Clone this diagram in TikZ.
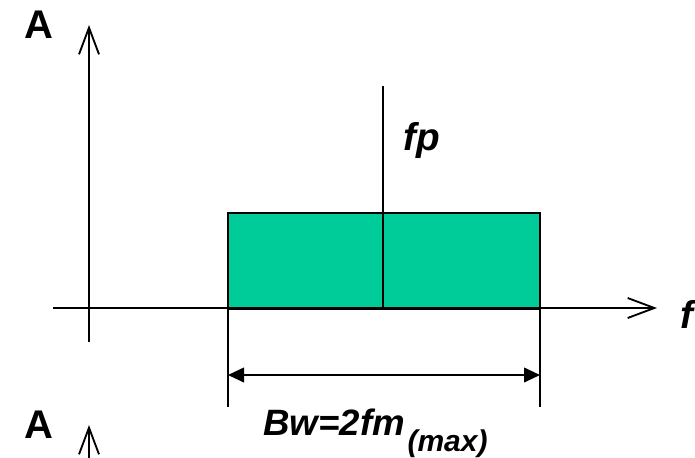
\documentclass[tikz,border=0pt]{standalone}
\usepackage{fontspec}
\setmainfont{Liberation Sans}
\usetikzlibrary{arrows.meta}
\definecolor{band}{HTML}{00CC99}
\tikzset{
  ax/.style={line width=1.4pt,-{Straight Barb[length=20pt,width=15pt,line width=1.4pt]}},
  thin/.style={line width=1.4pt},
  dim/.style={line width=1.4pt,{Triangle[length=12pt,width=11pt]}-{Triangle[length=12pt,width=11pt]}},
  lbl/.style={font=\bfseries\fontsize{30}{34}\selectfont, inner sep=0pt},
  ilbl/.style={font=\bfseries\itshape\fontsize{29}{33}\selectfont, inner sep=0pt, anchor=base west},
}
\begin{document}
\begin{tikzpicture}[x=0.75pt,y=-0.75pt]
\useasboundingbox (0,0) rectangle (695,457);
% coordinates
\coordinate (yb) at (89,342);
\coordinate (yt) at (89,25);
\coordinate (xl) at (53,308);
\coordinate (xr) at (657,308);
\coordinate (bl) at (228,309);
\coordinate (tr) at (540,213);
\coordinate (br) at (540,309);
\coordinate (fpt) at (383,86);
\coordinate (fpb) at (383,309);
\coordinate (dl) at (228,407);
\coordinate (dr) at (540,407);
\coordinate (al) at (228,375);
\coordinate (ar) at (540,375);
\coordinate (yb2) at (89,470);
\coordinate (yt2) at (89,425);
% band
\draw[thin,fill=band] (bl) rectangle (tr);
\draw[thin] (fpb) -- (fpt);
% axes
\draw[ax] (yb) -- (yt);
\draw[ax] (xl) -- (xr);
\draw[ax] (yb2) -- (yt2);
% dimension
\draw[thin] (br) -- (dr);
\draw[thin] (bl) -- (dl);
\draw[dim] (al) -- (ar);
% labels
\node[lbl] (A1) at (39,25) {A};
\node[lbl] (A2) at (39,425) {A};
\node[ilbl] (f) at (680,328) {f};
\node[ilbl] (fp) at (403,150) {fp};
\node[ilbl, font=\bfseries\itshape\fontsize{27.5}{31}\selectfont] (bw) at (263,435) {Bw=2fm\hspace{2pt}\raisebox{-12pt}{\fontsize{22.5}{26}\selectfont (max)}};
\end{tikzpicture}
\end{document}
